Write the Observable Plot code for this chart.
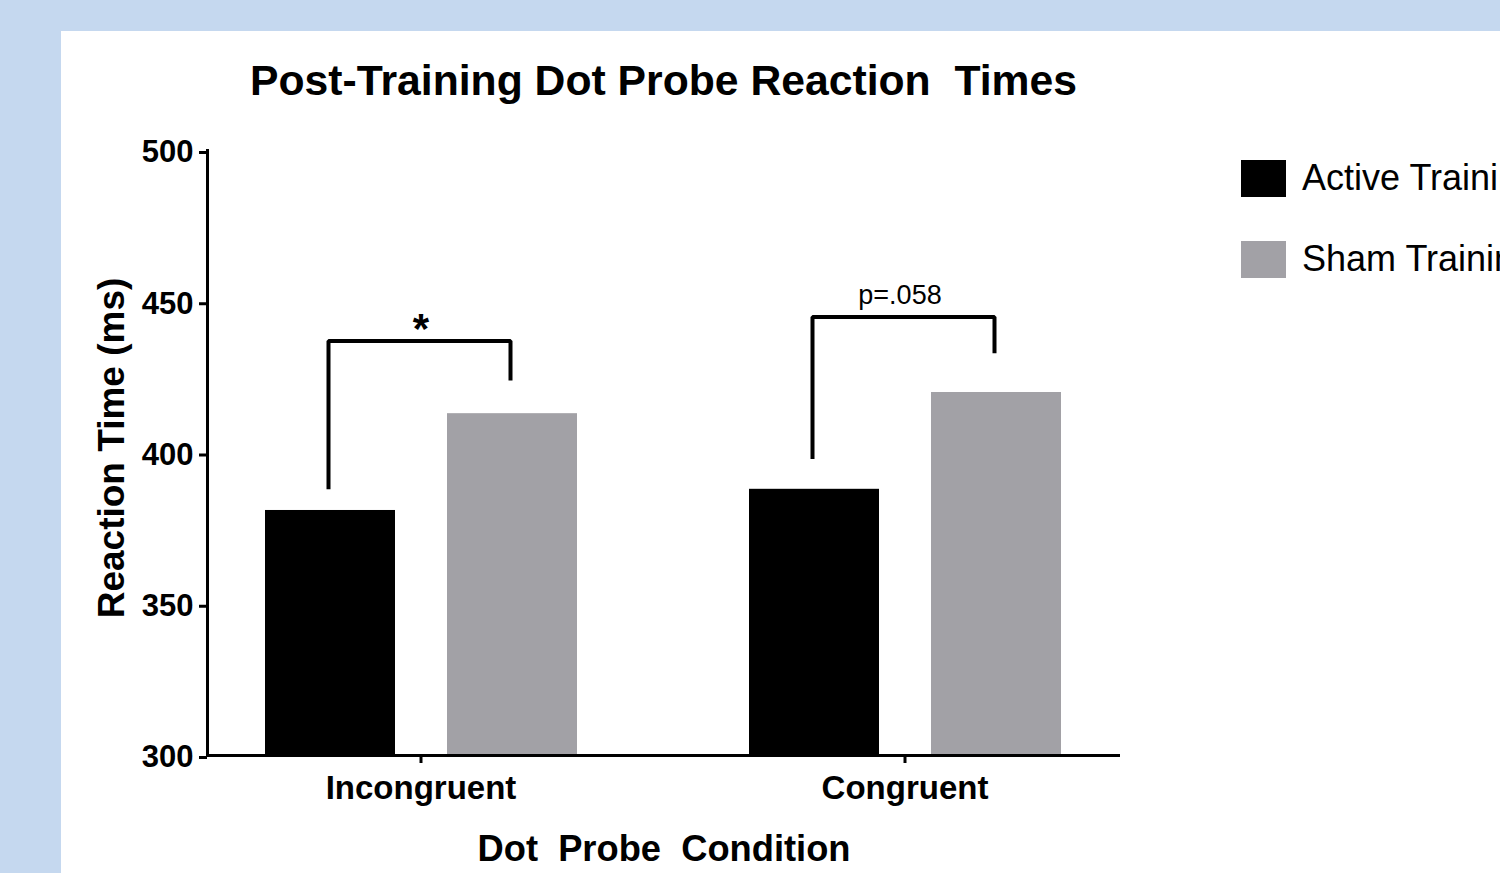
<!DOCTYPE html>
<html>
<head>
<meta charset="utf-8">
<script src="https://cdn.jsdelivr.net/npm/d3@7"></script>
<script src="https://cdn.jsdelivr.net/npm/@observablehq/plot@0.6"></script>
<style>
  html, body { margin: 0; padding: 0; width: 1500px; height: 873px; overflow: hidden; background: #c5d8ef; font-family: "Liberation Sans", Arial, Helvetica, sans-serif; }
  #panel { position: absolute; left: 61px; top: 31px; width: 1439px; height: 842px; background: #ffffff; }
  #chart { position: absolute; left: 0; top: 0; }
  #title { position: absolute; left: 0; width: 1327px; top: 59px; text-align: center; font-size: 42.7px; line-height: 42px; font-weight: bold; color: #000; white-space: pre; }
  .legend-item { position: absolute; left: 1241px; white-space: nowrap; }
  .sw { position: absolute; left: 0; top: 0; width: 45px; height: 37px; }
  .lt { position: absolute; left: 61px; top: -4px; font-size: 36px; line-height: 44px; color: #000; white-space: nowrap; }
</style>
</head>
<body>
<div id="panel"></div>
<div id="chart"></div>
<div id="title"></div>
<div id="legend"></div>
<script>
// ---- data ----
const conditions = ["Incongruent", "Congruent"];
const groups = ["Active Training", "Sham Training"];
const groupColors = ["#000000", "#a2a1a6"];
const activeValues = [381, 388];
const shamValues = [413, 420];
const yTicks = [300, 350, 400, 450, 500];
// significance brackets: [left end (active), top, right end (sham)]
const bracketIncongruent = [388, 437, 424];
const bracketCongruent = [398, 445, 433];
const bracketLabels = ["*", "p=.058"];
const titleText = "Post-Training Dot Probe Reaction  Times";
const yLabel = "Reaction Time (ms)";
const xLabel = "Dot  Probe  Condition";

// ---- tables ----
const rows = [];
conditions.forEach((c, i) => {
  rows.push({cond: c, group: groups[0], value: activeValues[i]});
  rows.push({cond: c, group: groups[1], value: shamValues[i]});
});
const brackets = [bracketIncongruent, bracketCongruent];
const bracketPts = [];
conditions.forEach((c, i) => {
  const [l, t, r] = brackets[i];
  bracketPts.push({cond: c, group: groups[0], y: l});
  bracketPts.push({cond: c, group: groups[0], y: t});
  bracketPts.push({cond: c, group: groups[1], y: t});
  bracketPts.push({cond: c, group: groups[1], y: r});
});
const annos = conditions.map((c, i) => ({cond: c, y: brackets[i][1], label: bracketLabels[i]}));

const FONT = "Liberation Sans, Arial, Helvetica, sans-serif";

document.getElementById("title").textContent = titleText;

const legend = document.getElementById("legend");
const legendTops = [160, 241];
groups.forEach((g, i) => {
  const item = document.createElement("div");
  item.className = "legend-item";
  item.style.top = legendTops[i] + "px";
  const sw = document.createElement("div");
  sw.className = "sw";
  sw.style.background = groupColors[i];
  const lt = document.createElement("div");
  lt.className = "lt";
  lt.textContent = g;
  item.appendChild(sw);
  item.appendChild(lt);
  legend.appendChild(item);
});

const plot = Plot.plot({
  width: 1500,
  height: 873,
  marginLeft: 207,
  marginRight: 382,
  marginTop: 150,
  marginBottom: 118,
  style: {background: "transparent", fontFamily: FONT, color: "#000", overflow: "visible"},
  fx: {domain: conditions, paddingInner: 0.118, paddingOuter: 0, axis: null, label: null},
  x: {domain: groups, paddingInner: 0.286, paddingOuter: 0.316, axis: null, label: null},
  y: {domain: [yTicks[0], yTicks[yTicks.length - 1]], axis: null, label: null},
  color: {domain: groups, range: groupColors},
  marks: [
    Plot.barY(rows, {fx: "cond", x: "group", y1: () => yTicks[0], y2: "value", fill: "group"}),
    Plot.line(bracketPts, {fx: "cond", x: "group", y: "y", z: "cond", dx: -2, stroke: "#000", strokeWidth: 4, strokeLinejoin: "miter", strokeLinecap: "butt"}),
    Plot.text(annos.slice(0, 1), {fx: "cond", y: "y", text: "label", fontSize: 42, fontWeight: "bold", lineAnchor: "bottom", dy: 2, fill: "#000"}),
    Plot.text(annos.slice(1, 2), {fx: "cond", y: "y", text: "label", fontSize: 27, lineAnchor: "bottom", dy: -13, dx: -5, fill: "#000"}),
    Plot.axisY({ticks: yTicks, tickSize: 8, tickPadding: 6, strokeWidth: 3, fontSize: 31, fontWeight: "bold", label: null, dy: 2}),
    Plot.axisFx({anchor: "bottom", tickSize: 8, tickPadding: 12, strokeWidth: 3, fontSize: 33, fontWeight: "bold", label: null}),
    Plot.frame({anchor: "left", facet: "super", stroke: "#000", strokeWidth: 3}),
    Plot.frame({anchor: "bottom", facet: "super", stroke: "#000", strokeWidth: 3}),
    Plot.text([yLabel], {facet: "super", frameAnchor: "left", textAnchor: "middle", text: d => d, rotate: -90, lineAnchor: "bottom", dx: -84, dy: -5, fontSize: 37, fontWeight: "bold", fill: "#000"}),
    Plot.text([xLabel], {facet: "super", frameAnchor: "bottom", text: d => d, lineAnchor: "bottom", dy: 105, dx: 1, fontSize: 36.3, fontWeight: "bold", fill: "#000"})
  ]
});
document.getElementById("chart").appendChild(plot);
</script>
</body>
</html>
